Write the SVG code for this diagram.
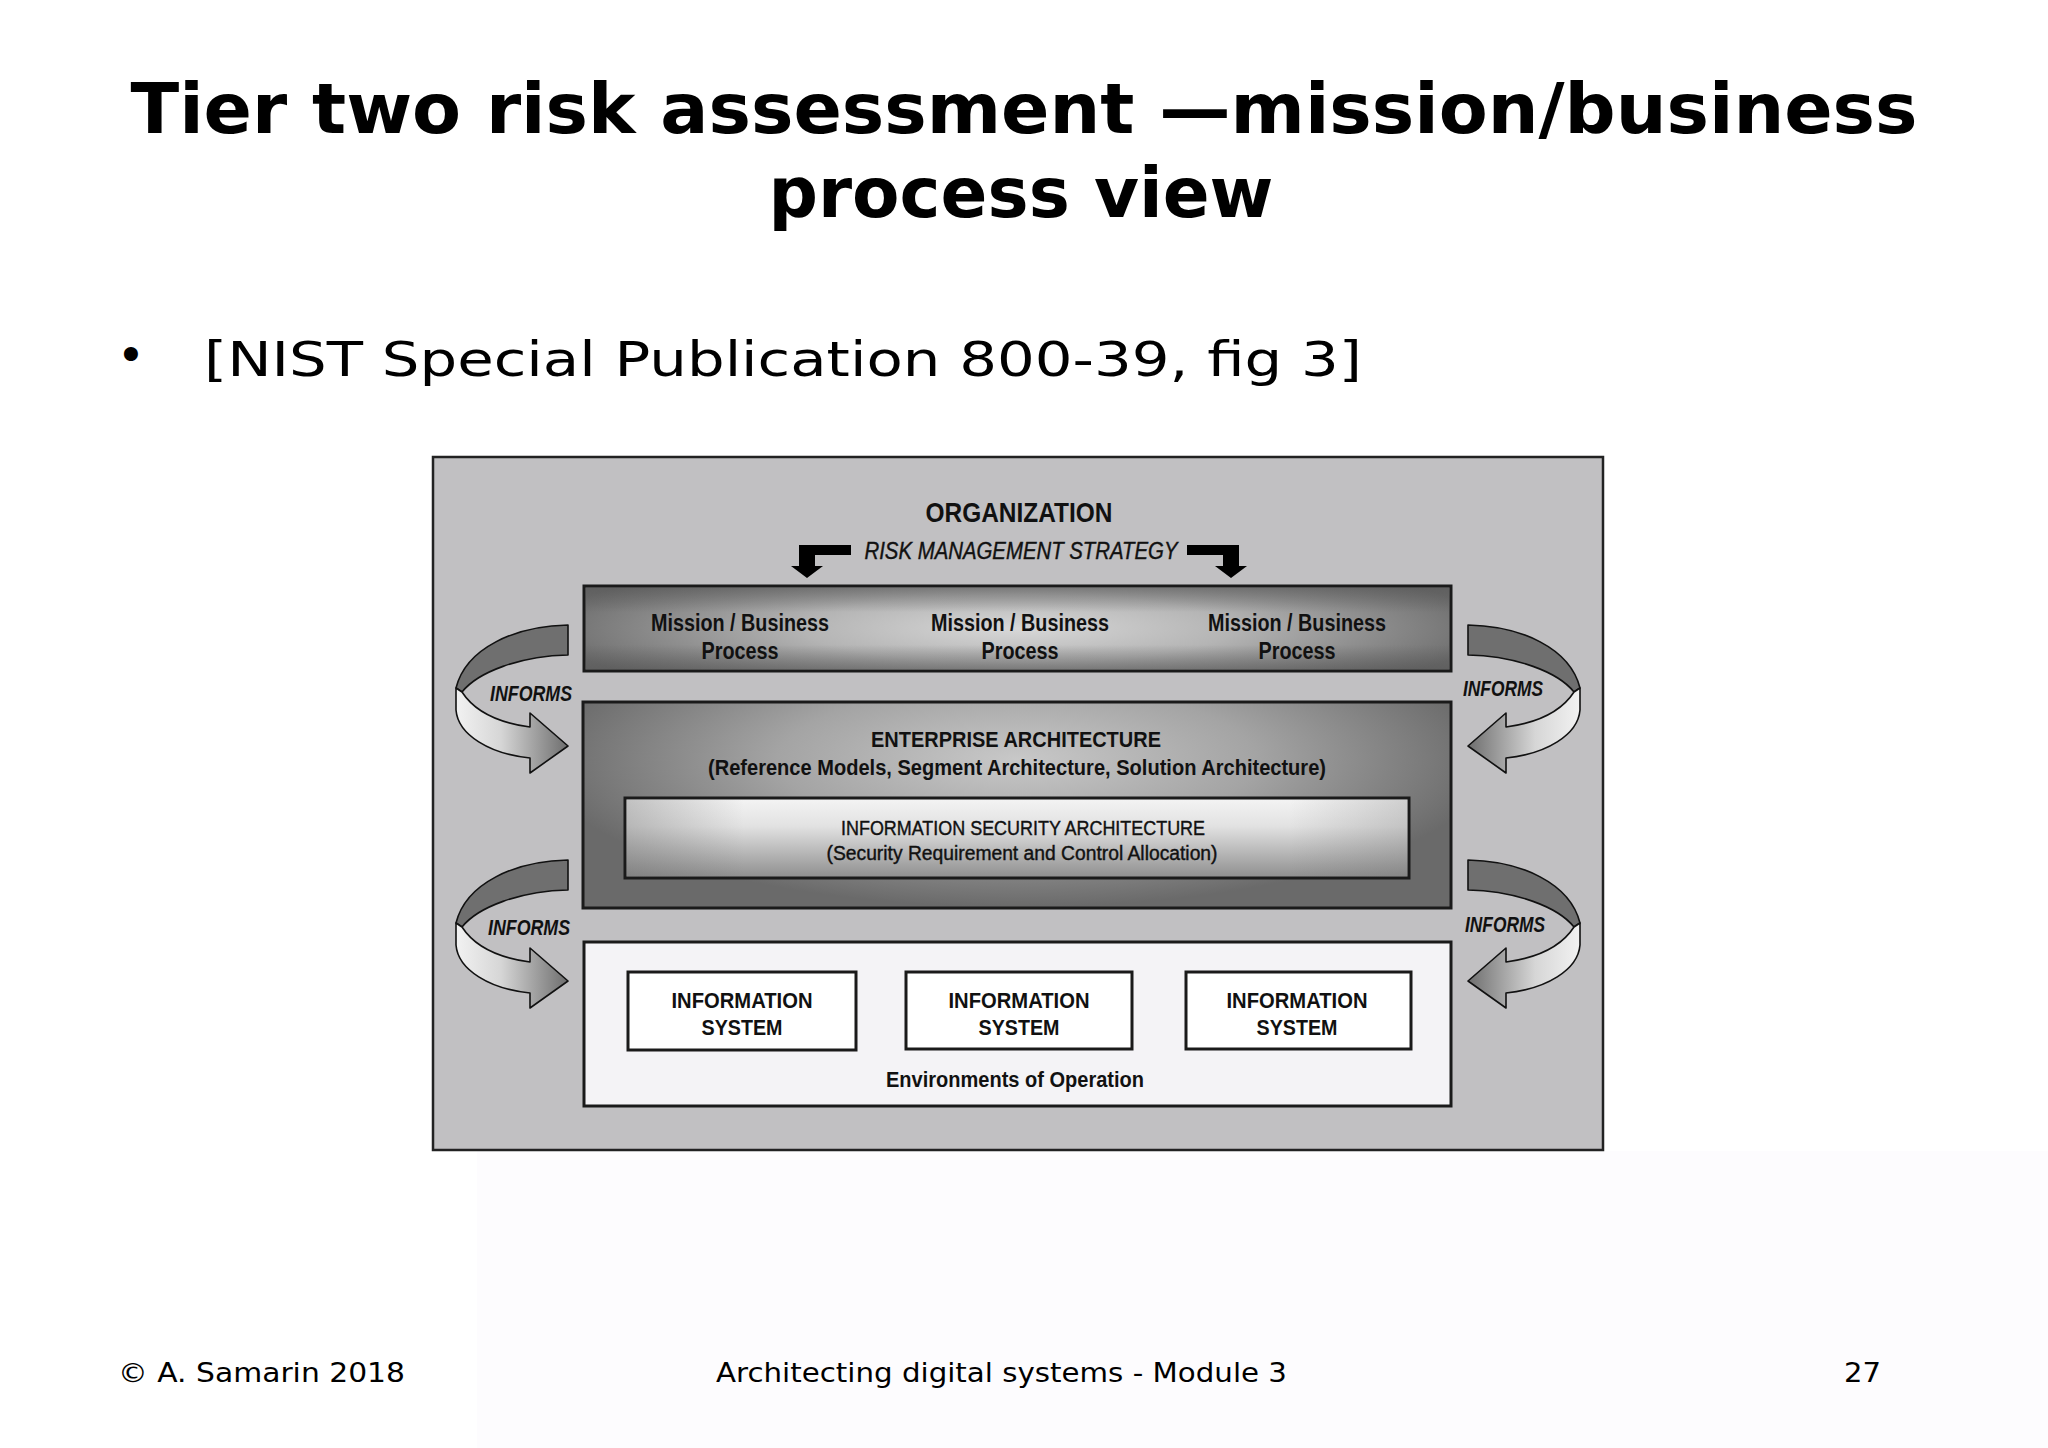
<svg xmlns="http://www.w3.org/2000/svg" xmlns:xlink="http://www.w3.org/1999/xlink" width="2048" height="1448" viewBox="0 0 2048 1448">
<style>
.title{font-family:"DejaVu Sans",Verdana,sans-serif;font-weight:bold;font-size:69px;fill:#000}
.body{font-family:"DejaVu Sans",Verdana,sans-serif;font-size:48px;fill:#000}
.foot{font-family:"DejaVu Sans",Verdana,sans-serif;font-size:26px;fill:#000}
.d{font-family:"Liberation Sans",Arial,sans-serif;fill:#111;text-anchor:middle}
.b{font-weight:bold}
.it{font-style:italic}
.m{stroke:#111;stroke-width:0.4}
.box{stroke:#1a1a1a;stroke-width:3}
.arr{stroke:#111;stroke-width:1.6;stroke-linejoin:round}
</style>
<defs>
<radialGradient id="gBand" cx="0.5" cy="0.5" r="0.55" gradientTransform="translate(0.5,0.5) scale(1,1.6) translate(-0.5,-0.5)">
<stop offset="0" stop-color="#d8d8d8"/>
<stop offset="0.45" stop-color="#b4b4b4"/>
<stop offset="1" stop-color="#6c6c6c"/>
</radialGradient>
<linearGradient id="gEdgeV" x1="0" y1="0" x2="0" y2="1">
<stop offset="0" stop-color="#555" stop-opacity="0.55"/>
<stop offset="0.3" stop-color="#555" stop-opacity="0"/>
<stop offset="0.7" stop-color="#555" stop-opacity="0"/>
<stop offset="1" stop-color="#555" stop-opacity="0.55"/>
</linearGradient>
<radialGradient id="gEA" cx="0.5" cy="0.28" r="0.55" gradientTransform="translate(0.5,0.28) scale(1,1.3) translate(-0.5,-0.28)">
<stop offset="0" stop-color="#c8c8c8"/>
<stop offset="0.5" stop-color="#a4a4a4"/>
<stop offset="1" stop-color="#6a6a6a"/>
</radialGradient>
<linearGradient id="gISA" x1="0" y1="0" x2="0" y2="1">
<stop offset="0" stop-color="#f4f4f4"/>
<stop offset="0.35" stop-color="#e2e2e2"/>
<stop offset="1" stop-color="#8e8e8e"/>
</linearGradient>
<linearGradient id="gISAh" x1="0" y1="0" x2="1" y2="0">
<stop offset="0" stop-color="#666" stop-opacity="0.35"/>
<stop offset="0.15" stop-color="#666" stop-opacity="0"/>
<stop offset="0.85" stop-color="#666" stop-opacity="0"/>
<stop offset="1" stop-color="#666" stop-opacity="0.25"/>
</linearGradient>
<linearGradient id="gFront" x1="0" y1="0" x2="1" y2="0">
<stop offset="0" stop-color="#f2f2f2"/>
<stop offset="0.4" stop-color="#d6d6d6"/>
<stop offset="1" stop-color="#6e6e6e"/>
</linearGradient>
<g id="informsArrow">
<path class="arr" fill="#6f6f6f" d="M568,625 C515,626 466,648 456,688 L462,692 C478,672 520,656 568,655 Z"/>
<path class="arr" fill="url(#gFront)" d="M456,688 L462,692 C475,712 500,723 530,727 L530,713 L568,746 L530,773 L530,758 C490,754 458,735 456,710 Z"/>
</g>
<path id="bentArrow" fill="#000" d="M851,545 L799,545 L799,566 L791,566 L807,578 L823,566 L815,566 L815,555 L851,555 Z"/>
</defs>

<rect x="0" y="0" width="2048" height="1448" fill="#ffffff"/>
<rect x="477" y="1151" width="1571" height="297" fill="#fdfcfe"/>

<g id="title">
<text class="title" x="1024" y="133" text-anchor="middle" textLength="1787" lengthAdjust="spacingAndGlyphs">Tier two risk assessment —mission/business</text>
<text class="title" x="1021" y="217" text-anchor="middle" textLength="505" lengthAdjust="spacingAndGlyphs">process view</text>
</g>
<g id="bullet">
<text class="body" x="131" y="372" text-anchor="middle" font-size="40">•</text>
<text class="body" x="204" y="376" font-size="50" textLength="1158" lengthAdjust="spacingAndGlyphs">[NIST Special Publication 800-39, fig 3]</text>
</g>

<g id="diagram-frame">
<rect x="433" y="457" width="1170" height="693" fill="#c1c0c2" stroke="#222" stroke-width="2.5"/>
</g>

<g id="organization">
<text class="d b" x="1019" y="522" font-size="28" textLength="187" lengthAdjust="spacingAndGlyphs">ORGANIZATION</text>
<text class="d it m" x="1021" y="559" font-size="23" textLength="313" lengthAdjust="spacingAndGlyphs">RISK MANAGEMENT STRATEGY</text>
</g>

<g id="mission-band">
<rect class="box" x="584" y="586" width="867" height="85" fill="url(#gBand)"/>
<rect x="585.5" y="587.5" width="864" height="82" fill="url(#gEdgeV)"/>
<text class="d b" font-size="23" x="740" y="631" textLength="178" lengthAdjust="spacingAndGlyphs">Mission / Business</text>
<text class="d b" font-size="23" x="740" y="659" textLength="77" lengthAdjust="spacingAndGlyphs">Process</text>
<text class="d b" font-size="23" x="1020" y="631" textLength="178" lengthAdjust="spacingAndGlyphs">Mission / Business</text>
<text class="d b" font-size="23" x="1020" y="659" textLength="77" lengthAdjust="spacingAndGlyphs">Process</text>
<text class="d b" font-size="23" x="1297" y="631" textLength="178" lengthAdjust="spacingAndGlyphs">Mission / Business</text>
<text class="d b" font-size="23" x="1297" y="659" textLength="77" lengthAdjust="spacingAndGlyphs">Process</text>
</g>

<g id="enterprise-architecture">
<rect class="box" x="583" y="702" width="868" height="206" fill="url(#gEA)"/>
<text class="d b" font-size="22" x="1016" y="747" textLength="290" lengthAdjust="spacingAndGlyphs">ENTERPRISE ARCHITECTURE</text>
<text class="d b" font-size="22" x="1017" y="775" textLength="618" lengthAdjust="spacingAndGlyphs">(Reference Models, Segment Architecture, Solution Architecture)</text>
</g>

<g id="information-security-architecture">
<rect class="box" x="625" y="798" width="784" height="80" fill="url(#gISA)"/>
<rect x="626.5" y="799.5" width="781" height="77" fill="url(#gISAh)"/>
<text class="d m" font-size="20" x="1023" y="835" textLength="364" lengthAdjust="spacingAndGlyphs">INFORMATION SECURITY ARCHITECTURE</text>
<text class="d m" font-size="20" x="1022" y="860" textLength="391" lengthAdjust="spacingAndGlyphs">(Security Requirement and Control Allocation)</text>
</g>

<g id="environments-of-operation">
<rect class="box" x="584" y="942" width="867" height="164" fill="#f4f3f6"/>
<text class="d b" font-size="22.5" x="1015" y="1087" textLength="258" lengthAdjust="spacingAndGlyphs">Environments of Operation</text>
</g>

<g id="information-system-1">
<rect class="box" x="628" y="972" width="228" height="78" fill="#ffffff"/>
<text class="d b" font-size="22.5" x="742" y="1008" textLength="141" lengthAdjust="spacingAndGlyphs">INFORMATION</text>
<text class="d b" font-size="22.5" x="742" y="1035" textLength="81" lengthAdjust="spacingAndGlyphs">SYSTEM</text>
</g>
<g id="information-system-2">
<rect class="box" x="906" y="972" width="226" height="77" fill="#ffffff"/>
<text class="d b" font-size="22.5" x="1019" y="1008" textLength="141" lengthAdjust="spacingAndGlyphs">INFORMATION</text>
<text class="d b" font-size="22.5" x="1019" y="1035" textLength="81" lengthAdjust="spacingAndGlyphs">SYSTEM</text>
</g>
<g id="information-system-3">
<rect class="box" x="1186" y="972" width="225" height="77" fill="#ffffff"/>
<text class="d b" font-size="22.5" x="1297" y="1008" textLength="141" lengthAdjust="spacingAndGlyphs">INFORMATION</text>
<text class="d b" font-size="22.5" x="1297" y="1035" textLength="81" lengthAdjust="spacingAndGlyphs">SYSTEM</text>
</g>

<g id="connectors">
<use xlink:href="#bentArrow" href="#bentArrow"/>
<use xlink:href="#bentArrow" href="#bentArrow" transform="translate(2038,0) scale(-1,1)"/>
<use xlink:href="#informsArrow" href="#informsArrow"/>
<use xlink:href="#informsArrow" href="#informsArrow" transform="translate(2036,0) scale(-1,1)"/>
<use xlink:href="#informsArrow" href="#informsArrow" transform="translate(0,235)"/>
<use xlink:href="#informsArrow" href="#informsArrow" transform="translate(2036,235) scale(-1,1)"/>
<text class="d b it" font-size="21.5" x="531" y="701" textLength="82" lengthAdjust="spacingAndGlyphs">INFORMS</text>
<text class="d b it" font-size="21.5" x="1503" y="696" textLength="80" lengthAdjust="spacingAndGlyphs">INFORMS</text>
<text class="d b it" font-size="21.5" x="529" y="935" textLength="82" lengthAdjust="spacingAndGlyphs">INFORMS</text>
<text class="d b it" font-size="21.5" x="1505" y="932" textLength="80" lengthAdjust="spacingAndGlyphs">INFORMS</text>
</g>

<g id="footer">
<text class="foot" x="118" y="1382" textLength="287" lengthAdjust="spacingAndGlyphs">© A. Samarin 2018</text>
<text class="foot" x="716" y="1382" textLength="571" lengthAdjust="spacingAndGlyphs">Architecting digital systems - Module 3</text>
<text class="foot" x="1844" y="1382" textLength="37" lengthAdjust="spacingAndGlyphs">27</text>
</g>
</svg>
